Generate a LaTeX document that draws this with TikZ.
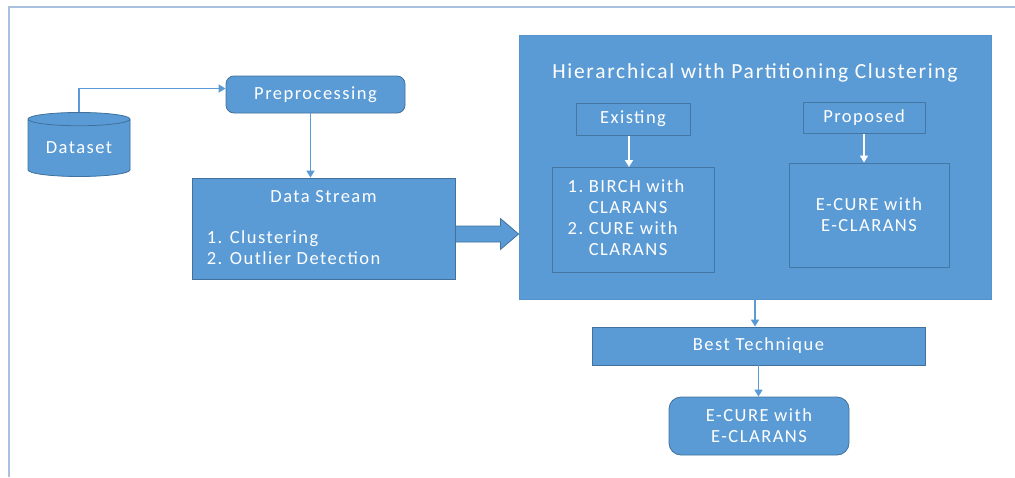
\documentclass[tikz,border=0pt]{standalone}
\usepackage{fontspec}
\setmainfont{Carlito}[LetterSpace=8]
\usepackage{xcolor}
\usetikzlibrary{shapes.geometric,arrows.meta,positioning,calc}
\definecolor{boxblue}{HTML}{5B9BD5}
\definecolor{edgeblue}{HTML}{41719C}
\definecolor{topblue}{HTML}{9DC3E6}
\definecolor{frameblue}{HTML}{A9C1DE}
\tikzset{
  box/.style={draw=edgeblue, fill=boxblue, line width=0.8pt, text=white, inner sep=0pt, align=center},
  inbox/.style={draw=edgeblue!85!boxblue, line width=1pt, text=white, inner sep=0pt, align=center},
  link/.style={draw=boxblue, line width=1.6pt, -{Triangle[width=8pt,length=7pt]}},
  wlink/.style={draw=white, line width=1.6pt, -{Triangle[width=8pt,length=7pt]}},
}

\begin{document}
\begin{tikzpicture}[x=1pt, y=-1pt, font=\fontsize{18.5}{21}\selectfont]
\useasboundingbox (0,0) rectangle (1015,477);
\draw[frameblue, line width=2pt] (1015,7) -- (9,7) -- (9,477);

\node[box, shape=cylinder, shape border rotate=90, aspect=0.2, minimum height=64pt, minimum width=102pt,
  cylinder uses custom fill, cylinder body fill=boxblue, cylinder end fill=topblue] (dataset) at (79,148) {Dataset};
\node[box, rounded corners=8pt, minimum width=179pt, minimum height=37pt] (prep) at (315.5,94.5) {Preprocessing};
\node[box, minimum width=263pt, minimum height=101pt] (stream) at (323.5,228.5) {};
\node[text=white] at ($(stream.north)+(0,19)$) {Data Stream};
\node[text=white, anchor=west, align=left, inner sep=0pt] at ($(stream.west)+(15,19.5)$) {1. Clustering\\2. Outlier Detection};

% clustering block
\node[box, draw=boxblue!80!edgeblue, minimum width=472pt, minimum height=264pt] (hier) at (755,167) {};
\node[text=white, font=\fontsize{21.5}{24}\selectfont] at ($(hier.north)+(0,38)$) {Hierarchical with Partitioning Clustering};
\node[inbox, minimum width=114pt, minimum height=32pt] (exist) at (633,119) {Existing};
\node[inbox, minimum width=162pt, minimum height=105pt] (birch) at (633,220) {};
\node[text=white, anchor=west, inner sep=0pt] at ($(birch.west)+(16,0)$)
  {\begin{tabular}{@{}l@{\ }l@{}}1. & BIRCH with\\ & CLARANS\\2. & CURE with\\ & CLARANS\end{tabular}};
\node[inbox, minimum width=122pt, minimum height=31pt] (prop) at (864,118) {Proposed};
\node[inbox, minimum width=160pt, minimum height=104pt] (ecure) at (869,215) {E-CURE with\\E-CLARANS};

\node[box, minimum width=333pt, minimum height=38pt] (best) at (758.5,346) {Best Technique};
\node[box, rounded corners=12pt, minimum width=180pt, minimum height=58pt] (result) at (759,426) {E-CURE with\\E-CLARANS};

% connectors
\draw[link] (dataset.north) |- ($(prep.west)+(0,-6)$);
\draw[link] ([xshift=-5pt]prep.south) -- ([xshift=-5pt]prep.south |- stream.north);
\draw[wlink] ([xshift=-4pt]exist.south) -- ([xshift=-4pt]exist.south |- birch.north);
\draw[wlink] (prop.south) -- (prop.south |- ecure.north);
\draw[link] (hier.south) -- (hier.south |- best.north);
\draw[link] (best.south) -- (best.south |- result.north);
\coordinate (mid) at ($(stream.east)+(0,5.5)$);
\filldraw[fill=boxblue, draw=edgeblue, line width=0.8pt] ($(mid)+(0,-8)$) -- ($(mid)+(45,-8)$) -- ($(mid)+(45,-15.5)$)
  -- (mid -| hier.west) -- ($(mid)+(45,15.5)$) -- ($(mid)+(45,8)$) -- ($(mid)+(0,8)$) -- cycle;
\end{tikzpicture}
\end{document}
